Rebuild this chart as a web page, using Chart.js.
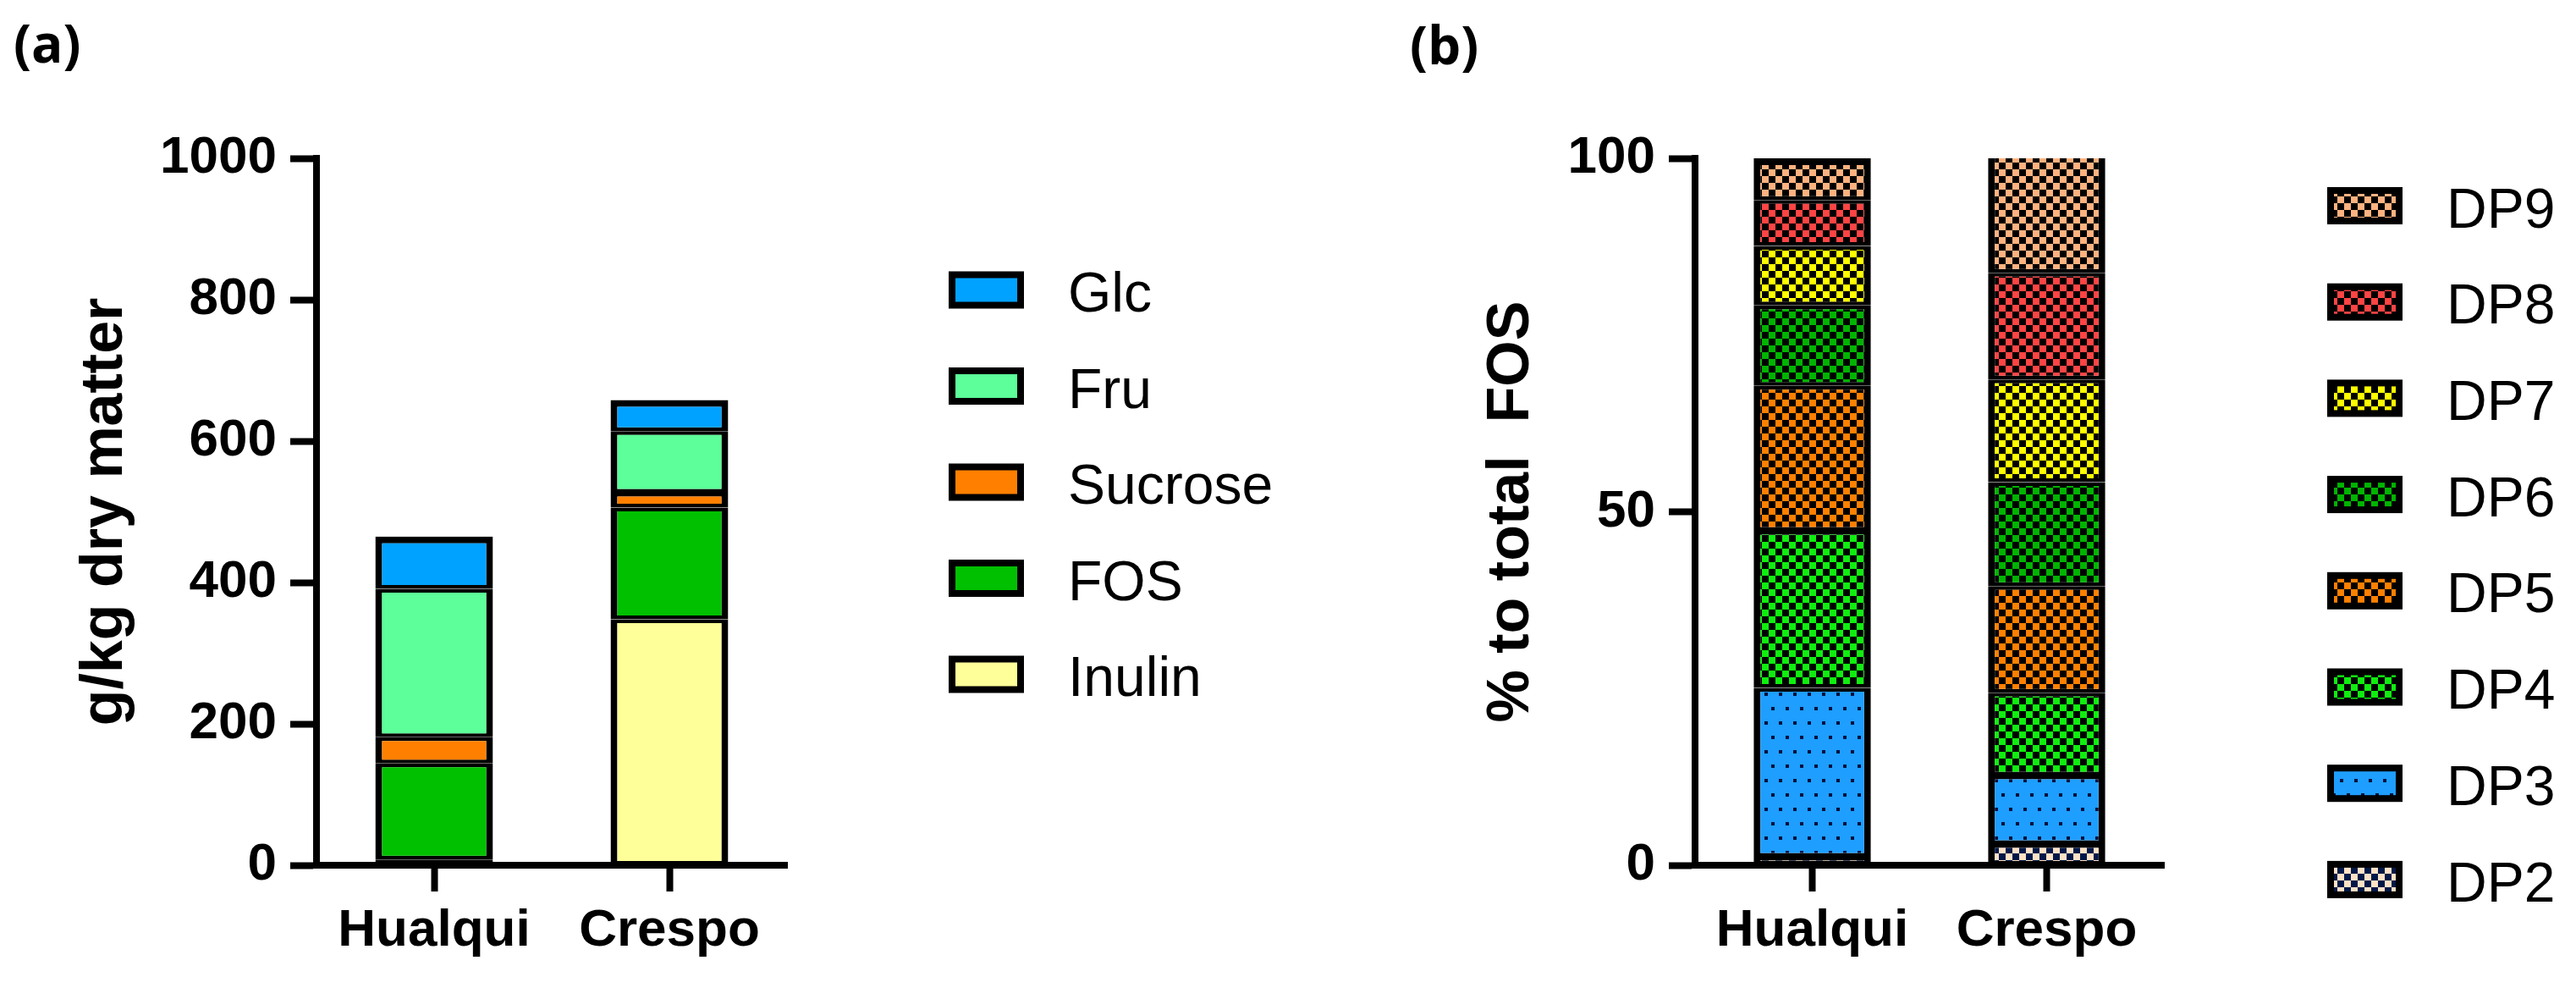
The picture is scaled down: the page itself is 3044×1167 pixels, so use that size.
<!DOCTYPE html>
<html><head><meta charset="utf-8">
<script src="https://cdn.jsdelivr.net/npm/chart.js@4.4.0/dist/chart.umd.min.js"></script>
<style>
html,body{margin:0;padding:0;background:#fff;overflow:hidden}
#wrap{position:relative;width:3044px;height:1167px;background:#fff}
canvas{position:absolute;top:0}
</style></head><body>
<div id="wrap">
<canvas id="ca" width="1522" height="1167" style="left:0;width:1522px;height:1167px"></canvas>
<canvas id="cb" width="1522" height="1167" style="left:1522px;width:1522px;height:1167px"></canvas>
</div>
<script>
// ---------- data ----------
const sites = ['Hualqui', 'Crespo'];

// panel (a): g/kg dry matter, stacked bottom -> top
const sugarNames = ['Inulin', 'FOS', 'Sucrose', 'Fru', 'Glc'];
const inulin  = [8, 348];
const fos     = [136, 158];
const sucrose = [37, 21];
const fru     = [210, 87];
const glc     = [74, 44];
const sugarTicks = [0, 200, 400, 600, 800, 1000];

// panel (b): % to total FOS, stacked bottom -> top
const dpNames = ['DP2', 'DP3', 'DP4', 'DP5', 'DP6', 'DP7', 'DP8', 'DP9'];
const dp2 = [1.2, 3.0];
const dp3 = [23.9, 9.7];
const dp4 = [22.2, 11.7];
const dp5 = [20.5, 15.1];
const dp6 = [11.4, 14.7];
const dp7 = [8.4, 14.5];
const dp8 = [6.5, 15.1];
const dp9 = [5.9, 16.2];
const pctTicks = [0, 50, 100];

// ---------- patterns ----------
function checker(color, dark, cell) {
  const c = document.createElement('canvas');
  c.width = c.height = cell * 2;
  const g = c.getContext('2d');
  g.fillStyle = dark; g.fillRect(0, 0, cell * 2, cell * 2);
  g.fillStyle = color; g.fillRect(0, 0, cell, cell); g.fillRect(cell, cell, cell, cell);
  return g.createPattern(c, 'repeat');
}
function dots(color, dot) {
  const c = document.createElement('canvas');
  c.width = 17; c.height = 34;
  const g = c.getContext('2d');
  g.fillStyle = color; g.fillRect(0, 0, 17, 34);
  g.fillStyle = dot; g.fillRect(2, 2, 4, 4); g.fillRect(10, 19, 4, 4);
  return g.createPattern(c, 'repeat');
}

const FONT = 'Liberation Sans';

const sideLegend = {
  id: 'sideLegend',
  afterDraw(chart, args, o) {
    const ctx = chart.ctx;
    ctx.save();
    const ds = chart.data.datasets;
    for (let i = ds.length - 1, row = 0; i >= 0; i--, row++) {
      const cy = o.y0 + row * o.dy;
      ctx.fillStyle = '#000';
      ctx.fillRect(o.x, cy - 22, 89, 44);
      ctx.fillStyle = ds[i].backgroundColor;
      ctx.fillRect(o.x + 8, cy - 14, 73, 28);
      ctx.fillStyle = '#000';
      ctx.font = '66px "' + FONT + '"';
      ctx.textAlign = 'left';
      ctx.textBaseline = 'alphabetic';
      ctx.fillText(ds[i].label, o.x + 141, cy + 2 + 0.358 * 66);
    }
    ctx.font = 'bold 62px "Open Sans"';
    ctx.fillText(o.letter, o.lx, o.ly);
    ctx.restore();
  }
};

function axisCommon() {
  return {
    grid: { display: true, drawOnChartArea: false, drawTicks: true, tickLength: 31, tickWidth: 8, tickColor: '#000', offset: false },
    border: { display: true, width: 8, color: '#000' }
  };
}

function makeOptions(cfg) {
  const ax = axisCommon();
  const ay = axisCommon();
  return {
    responsive: false, animation: false, devicePixelRatio: 1,
    layout: { padding: { left: 0, top: 187, right: cfg.padRight, bottom: 0 } },
    plugins: { legend: { display: false }, tooltip: { enabled: false }, title: { display: false }, sideLegend: cfg.legend },
    datasets: { bar: { barPercentage: 0.5, categoryPercentage: 1.0 } },
    scales: {
      x: {
        stacked: true, offset: true,
        grid: ax.grid, border: ax.border,
        ticks: { color: '#000', font: { family: FONT, weight: 'bold', size: 62 }, padding: 10, maxRotation: 0, autoSkip: false },
        afterFit(s) { s.height = 145; }
      },
      y: {
        stacked: true, min: 0, max: cfg.ticks[cfg.ticks.length - 1],
        afterBuildTicks(s) { s.ticks = cfg.ticks.map(v => ({ value: v })); },
        grid: ay.grid, border: ay.border,
        ticks: { color: '#000', font: { family: FONT, weight: 'bold', size: 62 }, padding: 16, callback: (v) => String(v) },
        title: { display: true, text: cfg.title, color: '#000', font: { family: FONT, weight: 'bold', size: 70 }, padding: { top: cfg.titlePad, bottom: 0 } },
        afterFit(s) { s.width = cfg.left; }
      }
    }
  };
}

function borderFor(openTop) {
  return (ctx) => {
    const last = ctx.chart.data.datasets.length - 1;
    let top = 4.5;
    if (ctx.datasetIndex === last) top = (openTop && openTop[ctx.dataIndex]) ? 0 : 8;
    return { top: top, bottom: 4.5, left: 8, right: 8 };
  };
}

// ---------- panel (a) ----------
const sugarColors = ['#FFFF99', '#00C000', '#FF8000', '#5CFF99', '#00A2FF'];
const sugarSeries = [inulin, fos, sucrose, fru, glc];
new Chart(document.getElementById('ca'), {
  type: 'bar',
  data: {
    labels: sites,
    datasets: sugarSeries.map((d, i) => ({
      label: sugarNames[i], data: d, backgroundColor: sugarColors[i],
      borderColor: '#000', borderWidth: borderFor(null), borderSkipped: false
    }))
  },
  options: makeOptions({
    padRight: 1522 - 930, left: 374, ticks: sugarTicks, title: 'g/kg dry matter', titlePad: 83,
    legend: { x: 1121, y0: 342.5, dy: 113.5, letter: '(a)', lx: 16, ly: 74 }
  }),
  plugins: [sideLegend]
});

// ---------- panel (b) ----------
const dpFills = [
  checker('#FFE2C6', '#001848', 8),
  dots('#1E9EFF', '#001040'),
  checker('#10EE10', '#000', 8),
  checker('#FF8000', '#000', 8),
  checker('#00B400', '#000', 8),
  checker('#FFFF00', '#000', 8),
  checker('#FF4444', '#000', 8),
  checker('#FFB27F', '#000', 8)
];
const dpSeries = [dp2, dp3, dp4, dp5, dp6, dp7, dp8, dp9];
new Chart(document.getElementById('cb'), {
  type: 'bar',
  data: {
    labels: sites,
    datasets: dpSeries.map((d, i) => ({
      label: dpNames[i], data: d, backgroundColor: dpFills[i],
      borderColor: '#000', borderWidth: borderFor([false, true]), borderSkipped: false
    }))
  },
  options: makeOptions({
    padRight: 1522 - 1035, left: 481, ticks: pctTicks, title: '% to total  FOS', titlePad: 223,
    legend: { x: 1228, y0: 243, dy: 113.7, letter: '(b)', lx: 144, ly: 76 }
  }),
  plugins: [sideLegend]
});
</script>
</body></html>
